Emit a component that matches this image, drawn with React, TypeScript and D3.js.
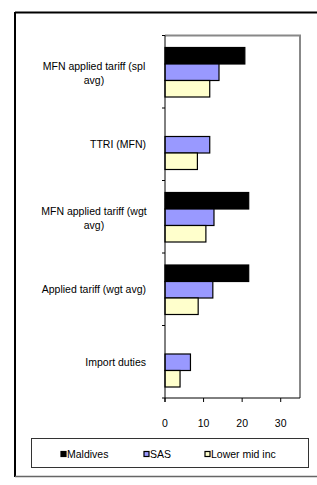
import * as d3 from "d3";

const categories = [
  "MFN applied tariff (spl avg)",
  "TTRI (MFN)",
  "MFN applied tariff (wgt avg)",
  "Applied tariff (wgt avg)",
  "Import duties",
];
const categoryLines = [
  ["MFN applied tariff (spl", "avg)"],
  ["TTRI (MFN)"],
  ["MFN applied tariff (wgt", "avg)"],
  ["Applied tariff (wgt avg)"],
  ["Import duties"],
];
const seriesNames = ["Maldives", "SAS", "Lower mid inc"];
const maldives = [20.7, 0, 21.7, 21.7, 0];
const sas = [14.0, 11.6, 12.7, 12.4, 6.6];
const lowerMid = [11.6, 8.4, 10.6, 8.6, 3.9];
const xTicks = [0, 10, 20, 30];

const colors = ["#000000", "#9999ff", "#ffffcc"];
const font = "'Liberation Sans', Arial, sans-serif";

const App = () => {
  const width = 317;
  const height = 485;
  const plot = { left: 165, right: 300, top: 35.5, bottom: 398 };
  const seriesValues = [maldives, sas, lowerMid];

  const xScale = d3.scaleLinear().domain([0, 35]).range([plot.left, plot.right]);
  const yScale = d3
    .scaleBand()
    .domain(categories)
    .range([plot.top, plot.bottom])
    .padding(0);
  const inner = d3
    .scaleBand()
    .domain(seriesNames)
    .range([12, yScale.bandwidth() - 11])
    .padding(0);

  const boundaries = categories.map((c) => yScale(c)!).concat([plot.bottom]);

  return (
    <div style={{ position: "absolute", left: 0, top: 0 }}>
      <svg width={width} height={height} fontFamily={font} fontSize={10.5}>
        <rect width={width} height={height} fill="#fff" />
        {/* outer frame */}
        <line x1={15} x2={317} y1={12.5} y2={12.5} stroke="#000" strokeWidth={2} />
        <line x1={15} x2={15} y1={12} y2={477} stroke="#000" strokeWidth={2} />
        <line x1={15} x2={317} y1={476.5} y2={476.5} stroke="#666" strokeWidth={1.5} />

        {/* plot area border */}
        <path
          d={`M${plot.left},${plot.top}H${plot.right}V${plot.bottom}`}
          fill="none"
          stroke="#888"
          strokeWidth={2}
        />

        {/* bars */}
        {categories.map((cat, i) => (
          <g key={cat}>
            {seriesNames.map((s, j) => {
              const v = seriesValues[j][i];
              if (!v) return null;
              return (
                <rect
                  key={s}
                  x={xScale(0)}
                  y={yScale(cat)! + inner(s)!}
                  width={xScale(v) - xScale(0)}
                  height={inner.bandwidth()}
                  fill={colors[j]}
                  stroke="#000"
                  strokeWidth={1.2}
                />
              );
            })}
          </g>
        ))}

        {/* axes */}
        <line x1={plot.left} x2={plot.left} y1={plot.top} y2={plot.bottom + 4} stroke="#000" />
        <line x1={plot.left} x2={plot.right} y1={plot.bottom} y2={plot.bottom} stroke="#000" />
        {boundaries.map((b, i) => (
          <line key={i} x1={plot.left - 3} x2={plot.left} y1={b} y2={b} stroke="#000" />
        ))}
        {xTicks.map((t) => (
          <g key={t}>
            <line x1={xScale(t)} x2={xScale(t)} y1={plot.bottom} y2={plot.bottom + 4} stroke="#000" />
            <text x={xScale(t)} y={427} textAnchor="middle" fill="#000">
              {t}
            </text>
          </g>
        ))}

        {/* category labels */}
        {categories.map((cat, i) => {
          const lines = categoryLines[i];
          const cy = yScale(cat)! + yScale.bandwidth() / 2;
          if (lines.length === 1) {
            return (
              <text key={cat} x={146} y={cy + 3.8} textAnchor="end" fill="#000">
                {lines[0]}
              </text>
            );
          }
          return (
            <text key={cat} x={94} textAnchor="middle" fill="#000">
              {lines.map((l, k) => (
                <tspan key={k} x={94} y={cy + 3.8 - 5.5 + k * 13.5}>
                  {l}
                </tspan>
              ))}
            </text>
          );
        })}

        {/* legend */}
        <rect x={31.5} y={438.5} width={277} height={29} fill="#fff" stroke="#333" />
        {seriesNames.map((s, j) => {
          const lx = [61, 144, 205][j];
          return (
            <g key={s}>
              <rect x={lx} y={451.5} width={5} height={5} fill={colors[j]} stroke="#000" strokeWidth={1.2} />
              <text x={lx + 6} y={457.8} fill="#000">
                {s}
              </text>
            </g>
          );
        })}
      </svg>
    </div>
  );
};

export default App;
